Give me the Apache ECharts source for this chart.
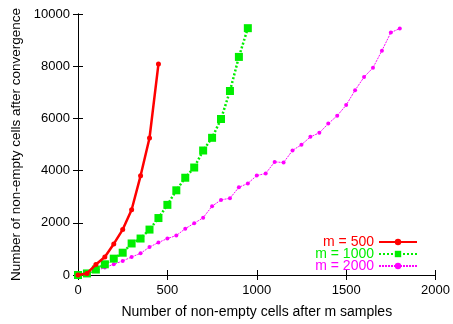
<!DOCTYPE html>
<html><head><meta charset="utf-8">
<script src="https://cdn.jsdelivr.net/npm/echarts@6/dist/echarts.min.js"></script>
<style>html,body{margin:0;padding:0;background:#fff}#c{width:453px;height:324px}</style>
</head><body><div id="c"></div>
<script>
const xTicks = [0, 500, 1000, 1500, 2000];
const yTicks = [0, 2000, 4000, 6000, 8000, 10000];
const seriesNames = ['m = 500', 'm = 1000', 'm = 2000'];
const x500 = [0,50,100,150,200,250,300,350,400,450];
const y500 = [0,60,400,690,1190,1740,2500,3800,5250,8080];
const x1000 = [0,50,100,150,200,250,300,350,400,450,500,550,600,650,700,750,800,850,900,950];
const y1000 = [0,60,209,410,626,854,1208,1397,1740,2182,2687,3245,3727,4118,4770,5256,5977,7050,8356,9457];
const x2000 = [0,50,100,150,200,250,300,350,400,450,500,550,600,650,700,750,800,850,900,950,1000,1050,1100,1150,1200,1250,1300,1350,1400,1450,1500,1550,1600,1650,1700,1750,1800];
const y2000 = [0,30,160,285,410,538,690,829,1070,1245,1397,1510,1776,1980,2194,2637,2877,2941,3359,3510,3810,3890,4334,4307,4774,4990,5294,5446,5800,6103,6509,7078,7583,7939,8596,9290,9442];

const zip = (a, b) => a.map((v, i) => [v, b[i]]);
const font = 'Liberation Sans, Arial, sans-serif';
const chart = echarts.init(document.getElementById('c'), null, {renderer: 'canvas'});
const axisCommon = {
  axisLine: {show: true, lineStyle: {color: '#000', width: 1}},
  axisTick: {show: true, inside: true, length: 5, lineStyle: {color: '#000'}},
  splitLine: {show: false}
};
const fmt = v => String(v);
chart.setOption({
  animation: false,
  grid: {left: 78, right: 16, top: 14, bottom: 46.5},
  textStyle: {fontFamily: font},
  xAxis: [
    Object.assign({type: 'value', min: xTicks[0], max: xTicks[xTicks.length-1], interval: 500, position: 'bottom',
      name: 'Number of non-empty cells after m samples', nameLocation: 'middle', nameGap: 30,
      nameTextStyle: {fontSize: 14, color: '#000', fontFamily: font},
      axisLabel: {fontSize: 13, color: '#000', margin: 9, fontFamily: font, formatter: fmt}}, axisCommon),
    Object.assign({type: 'value', min: xTicks[0], max: xTicks[xTicks.length-1], interval: 500, position: 'top',
      axisLabel: {show: false}}, axisCommon)
  ],
  yAxis: [
    Object.assign({type: 'value', min: yTicks[0], max: yTicks[yTicks.length-1], interval: 2000, position: 'left',
      name: 'Number of non-empty cells after convergence', nameLocation: 'middle', nameGap: 55,
      nameTextStyle: {fontSize: 13.5, color: '#000', fontFamily: font},
      axisLabel: {fontSize: 13, color: '#000', margin: 8, fontFamily: font, formatter: fmt}}, axisCommon),
    Object.assign({type: 'value', min: yTicks[0], max: yTicks[yTicks.length-1], interval: 2000, position: 'right',
      axisLabel: {show: false}}, axisCommon)
  ],
  legend: {
    orient: 'vertical', right: 30, top: 230, align: 'right',
    itemWidth: 38, itemHeight: 8, itemGap: -2,
    textStyle: {fontSize: 14, fontFamily: font},
    data: [
      {name: seriesNames[0], textStyle: {color: '#ff0000'}},
      {name: seriesNames[1], textStyle: {color: '#00ee00'}},
      {name: seriesNames[2], textStyle: {color: '#ff00ff'}}
    ]
  },
  series: [
    {name: seriesNames[0], type: 'line', data: zip(x500, y500), symbol: 'circle', symbolSize: 5,
      lineStyle: {color: '#ff0000', width: 2.5}, itemStyle: {color: '#ff0000'}, z: 5},
    {name: seriesNames[1], type: 'line', data: zip(x1000, y1000), symbol: 'rect', symbolSize: 8,
      lineStyle: {color: '#00ee00', width: 2.5, type: [2, 2]}, itemStyle: {color: '#00ee00'}, z: 4},
    {name: seriesNames[2], type: 'line', data: zip(x2000, y2000), symbol: 'circle', symbolSize: 4,
      lineStyle: {color: '#ff00ff', width: 1, type: [2, 1]}, itemStyle: {color: '#ff00ff'}, z: 3}
  ]
});
</script></body></html>
